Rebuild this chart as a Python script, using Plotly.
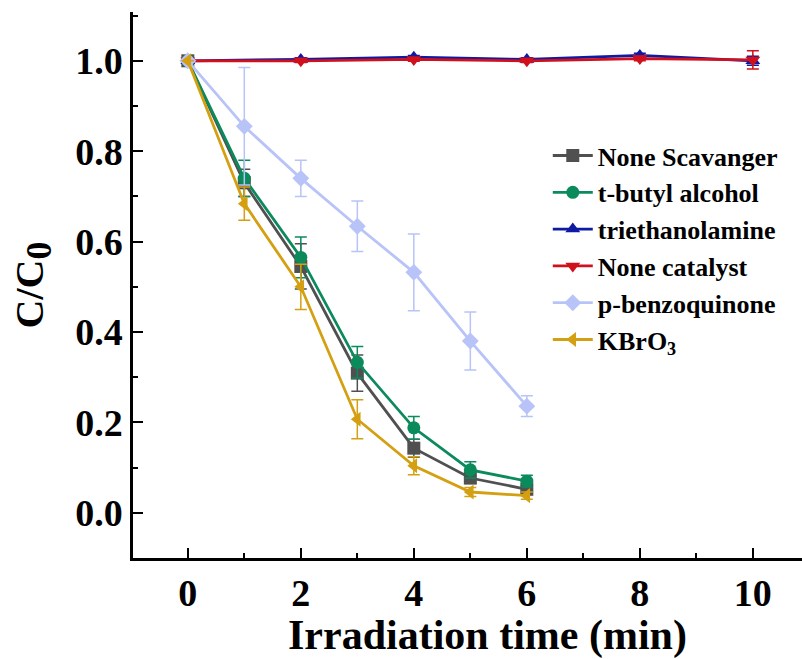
import plotly.graph_objects as go

t7 = [0, 1, 2, 3, 4, 5, 6]
t_even = [0, 2, 4, 6, 8, 10]

none_scav = [1.0, 0.73, 0.545, 0.309, 0.143, 0.077, 0.052]
none_scav_err = [0.0, 0.03, 0.05, 0.04, 0.02, 0.012, 0.008]

tba = [1.0, 0.74, 0.565, 0.333, 0.188, 0.095, 0.07]
tba_err = [0.0, 0.04, 0.045, 0.035, 0.025, 0.018, 0.013]

tea = [1.0, 1.003, 1.008, 1.003, 1.012, 1.0]
tea_err = [0.0, 0.004, 0.004, 0.004, 0.005, 0.01]

none_cat = [1.0, 1.0, 1.003, 1.0, 1.005, 1.002]
none_cat_err = [0.0, 0.004, 0.004, 0.004, 0.005, 0.02]

pbq = [1.0, 0.855, 0.74, 0.634, 0.532, 0.38, 0.236]
pbq_err = [0.0, 0.13, 0.04, 0.056, 0.085, 0.064, 0.023]

kbro3 = [1.0, 0.684, 0.50, 0.207, 0.104, 0.046, 0.038]
kbro3_err = [0.0, 0.037, 0.05, 0.043, 0.02, 0.01, 0.008]

series = [
    ("None Scavanger", t7, none_scav, none_scav_err, "#505050", "square"),
    ("t-butyl alcohol", t7, tba, tba_err, "#0b8a5c", "circle"),
    ("triethanolamine", t_even, tea, tea_err, "#0f1aa3", "triangle-up"),
    ("None catalyst", t_even, none_cat, none_cat_err, "#d0101c", "triangle-down"),
    ("p-benzoquinone", t7, pbq, pbq_err, "#b8c4f8", "diamond"),
    ("KBrO<sub>3</sub>", t7, kbro3, kbro3_err, "#d4a012", "triangle-left"),
]

fig = go.Figure()
for name, x, y, e, c, sym in series:
    fig.add_trace(go.Scatter(
        x=x, y=y, name=name, mode="lines+markers",
        line=dict(color=c, width=2.8),
        marker=dict(symbol=sym, size=13, color=c),
        error_y=dict(type="data", array=e, visible=True, color=c, thickness=1.5, width=6),
    ))

font_family = "Liberation Serif"
fig.update_layout(
    width=802, height=659,
    margin=dict(l=133, r=0, t=12, b=101),
    paper_bgcolor="white", plot_bgcolor="white",
    font=dict(family=font_family, color="black"),
    showlegend=True,
    legend=dict(
        x=0.62, y=0.78, xanchor="left", yanchor="top",
        font=dict(size=26, family=font_family, color="black", weight="bold"),
        bgcolor="rgba(0,0,0,0)", tracegroupgap=0, itemwidth=40,
    ),
    xaxis=dict(
        range=[-0.97, 10.87],
        tickvals=[0, 2, 4, 6, 8, 10],
        ticks="inside", ticklen=10, tickwidth=2, tickcolor="black",
        minor=dict(dtick=1, tick0=0, ticks="inside", ticklen=5, tickwidth=2, tickcolor="black"),
        showline=True, linewidth=2.5, linecolor="black",
        showgrid=False, zeroline=False,
        tickfont=dict(size=38, family=font_family, weight="bold"),
    ),
    yaxis=dict(
        range=[-0.1, 1.108],
        tickvals=[0.0, 0.2, 0.4, 0.6, 0.8, 1.0],
        tickformat=".1f",
        ticks="inside", ticklen=10, tickwidth=2, tickcolor="black",
        minor=dict(dtick=0.1, tick0=0, ticks="inside", ticklen=5, tickwidth=2, tickcolor="black"),
        showline=True, linewidth=2.5, linecolor="black",
        showgrid=False, zeroline=False,
        tickfont=dict(size=38, family=font_family, weight="bold"),
        title=dict(text="C/C<sub><span style='font-size:36px'>0</span></sub>",
                   font=dict(size=40, family=font_family, weight="bold"), standoff=20),
    ),
    annotations=[dict(
        text="Irradiation time (min)", xref="paper", yref="paper",
        x=(487 - 133) / 669, y=-(635 - 558) / 546, xanchor="center", yanchor="middle",
        showarrow=False, font=dict(size=42, family=font_family, weight="bold", color="black"),
    )],
)

fig.write_html("out.html")
